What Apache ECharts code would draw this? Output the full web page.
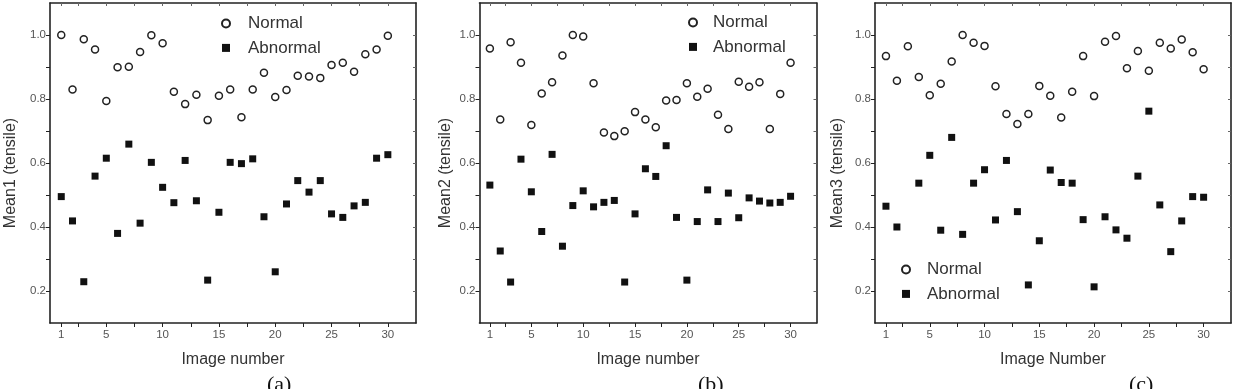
<!DOCTYPE html>
<html>
<head>
<meta charset="utf-8">
<script src="https://cdn.jsdelivr.net/npm/echarts@6/dist/echarts.min.js"></script>
<style>
  html, body { margin: 0; padding: 0; background: #fff; }
  #chart { width: 1241px; height: 389px; }
</style>
</head>
<body>
<div id="chart"></div>
<script>
// image numbers 1..30
var imageNumbers = [1, 2, 3, 4, 5, 6, 7, 8, 9, 10, 11, 12, 13, 14, 15,
	16, 17, 18, 19, 20, 21, 22, 23, 24, 25, 26, 27, 28, 29, 30];

// (a) Mean1
var normal1 = [1.000, 0.830, 0.987, 0.955, 0.794, 0.899, 0.901, 0.947, 0.999, 0.974,
	0.823, 0.784, 0.813, 0.734, 0.810, 0.830, 0.743, 0.830, 0.882, 0.806,
	0.828, 0.873, 0.870, 0.866, 0.906, 0.913, 0.885, 0.940, 0.955, 0.998];
var abnormal1 = [0.495, 0.419, 0.229, 0.559, 0.615, 0.380, 0.659, 0.412, 0.602, 0.524,
	0.476, 0.608, 0.482, 0.234, 0.446, 0.602, 0.598, 0.613, 0.432, 0.260,
	0.472, 0.545, 0.509, 0.545, 0.441, 0.430, 0.466, 0.477, 0.615, 0.626];

// (b) Mean2
var normal2 = [0.958, 0.736, 0.977, 0.913, 0.719, 0.817, 0.852, 0.936, 1.000, 0.995,
	0.849, 0.695, 0.684, 0.699, 0.759, 0.736, 0.712, 0.795, 0.797, 0.849,
	0.807, 0.832, 0.751, 0.706, 0.854, 0.838, 0.852, 0.706, 0.816, 0.913];
var abnormal2 = [0.531, 0.325, 0.228, 0.612, 0.510, 0.386, 0.627, 0.340, 0.467, 0.513,
	0.463, 0.477, 0.483, 0.228, 0.441, 0.582, 0.558, 0.654, 0.430, 0.234,
	0.417, 0.516, 0.417, 0.506, 0.429, 0.491, 0.481, 0.475, 0.477, 0.496];

// (c) Mean3
var normal3 = [0.934, 0.857, 0.965, 0.869, 0.812, 0.848, 0.917, 1.000, 0.976, 0.966,
	0.840, 0.753, 0.722, 0.753, 0.841, 0.810, 0.742, 0.823, 0.934, 0.809,
	0.979, 0.997, 0.896, 0.950, 0.888, 0.976, 0.958, 0.986, 0.946, 0.893];
var abnormal3 = [0.465, 0.400, null, 0.537, 0.624, 0.390, 0.680, 0.377, 0.537, 0.579,
	0.422, 0.608, 0.448, 0.219, 0.357, 0.578, 0.539, 0.537, 0.423, 0.213,
	0.432, 0.391, 0.365, 0.559, 0.762, 0.469, 0.323, 0.419, 0.495, 0.493];

// ticks and labels
var xTickValues = [1, 2.5, 5, 7.5, 10, 12.5, 15, 17.5, 20, 22.5, 25, 27.5, 30];
var xLabelValues = [1, 5, 10, 15, 20, 25, 30];
var yTickValues = [0.2, 0.3, 0.4, 0.5, 0.6, 0.7, 0.8, 0.9, 1.0];
var yLabelValues = [0.2, 0.4, 0.6, 0.8, 1.0];

var panels = [
	{ normal: normal1, abnormal: abnormal1, yName: 'Mean1 (tensile)', xName: 'Image number',
		grid: { left: 50, top: 3, width: 366, height: 320 }, yGap: 31, caption: '(a)', capX: 281,
		legend: { left: 216, top: 10, pad: 13 } },
	{ normal: normal2, abnormal: abnormal2, yName: 'Mean2 (tensile)', xName: 'Image number',
		grid: { left: 479.5, top: 3, width: 337, height: 320 }, yGap: 26, caption: '(b)', capX: 712,
		legend: { left: 683, top: 9, pad: 11 } },
	{ normal: normal3, abnormal: abnormal3, yName: 'Mean3 (tensile)', xName: 'Image Number',
		grid: { left: 875, top: 3, width: 356, height: 320 }, yGap: 29, caption: '(c)', capX: 1143,
		legend: { left: 896, top: 256, pad: 12 } }
];

function pairs(values) {
	var out = [];
	for (var i = 0; i < imageNumbers.length; i++) {
		if (values[i] != null) out.push([imageNumbers[i], values[i]]);
	}
	return out;
}

var font = 'Liberation Sans, Arial, sans-serif';
var lineColor = '#222';

var option = {
	backgroundColor: '#fff',
	animation: false,
	grid: [], xAxis: [], yAxis: [], series: [], legend: [], graphic: []
};

panels.forEach(function(p, k) {
	option.grid.push(p.grid);
	// bottom x axis
	option.xAxis.push({
		type: 'value', gridIndex: k, min: 0, max: 32.5, position: 'bottom',
		name: p.xName, nameLocation: 'middle', nameGap: 29,
		nameTextStyle: { fontFamily: font, fontSize: 16, color: '#333' },
		axisLine: { onZero: false, lineStyle: { color: lineColor, width: 1.6 } },
		axisTick: { customValues: xTickValues, length: 4, lineStyle: { color: lineColor } },
		axisLabel: { customValues: xLabelValues, fontFamily: font, fontSize: 11.5, color: '#555', margin: 6 },
		splitLine: { show: false }
	});
	// top x axis (frame)
	option.xAxis.push({
		type: 'value', gridIndex: k, min: 0, max: 32.5, position: 'top',
		axisLine: { onZero: false, lineStyle: { color: lineColor, width: 1.6 } },
		axisTick: { customValues: xTickValues, inside: true, length: 3, lineStyle: { color: '#666' } },
		axisLabel: { show: false },
		splitLine: { show: false }
	});
	// left y axis
	option.yAxis.push({
		type: 'value', gridIndex: k, min: 0.1, max: 1.1, position: 'left',
		name: p.yName, nameLocation: 'middle', nameGap: p.yGap,
		nameTextStyle: { fontFamily: font, fontSize: 16, color: '#333', padding: [0, 20, 0, 0] },
		axisLine: { onZero: false, lineStyle: { color: lineColor, width: 1.6 } },
		axisTick: { customValues: yTickValues, length: 4, lineStyle: { color: lineColor } },
		axisLabel: {
			customValues: yLabelValues, fontFamily: font, fontSize: 11.5, color: '#555', margin: 4,
			formatter: function(v) { return v.toFixed(1); }
		},
		splitLine: { show: false }
	});
	// right y axis (frame)
	option.yAxis.push({
		type: 'value', gridIndex: k, min: 0.1, max: 1.1, position: 'right',
		axisLine: { onZero: false, lineStyle: { color: lineColor, width: 1.6 } },
		axisTick: { customValues: yTickValues, inside: true, length: 3, lineStyle: { color: '#666' } },
		axisLabel: { show: false },
		splitLine: { show: false }
	});

	option.series.push({
		name: 'Normal', type: 'scatter', xAxisIndex: 2 * k, yAxisIndex: 2 * k,
		symbol: 'circle', symbolSize: 7,
		itemStyle: { color: '#fff', borderColor: '#222', borderWidth: 1.5, opacity: 1 },
		data: pairs(p.normal)
	});
	option.series.push({
		name: 'Abnormal', type: 'scatter', xAxisIndex: 2 * k, yAxisIndex: 2 * k,
		symbol: 'rect', symbolSize: 7,
		itemStyle: { color: '#111', opacity: 1 },
		data: pairs(p.abnormal)
	});

	option.legend.push({
		orient: 'vertical', left: p.legend.left, top: p.legend.top,
		itemWidth: 8, itemHeight: 8, itemGap: 7.4,
		data: ['Normal', 'Abnormal'],
		textStyle: { fontFamily: font, fontSize: 17, color: '#333', lineHeight: 16, padding: [0, 0, 0, p.legend.pad] }
	});

	option.graphic.push({
		type: 'text', left: p.capX - 14, top: 374,
		style: { text: p.caption, font: '22px "Liberation Serif", "Times New Roman", serif', fill: '#111' }
	});
});

var chart = echarts.init(document.getElementById('chart'));
chart.setOption(option);
</script>
</body>
</html>
